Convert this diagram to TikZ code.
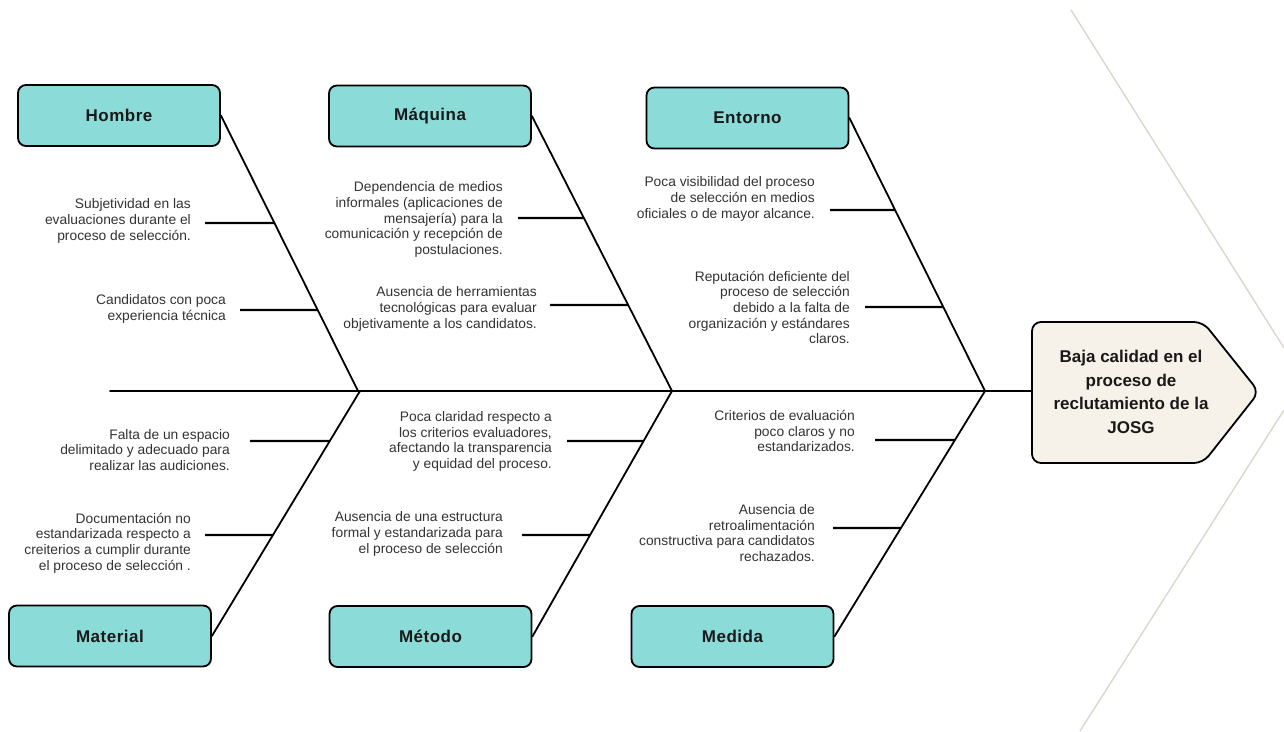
\documentclass[tikz,border=0pt]{standalone}
\usepackage{fontspec}
\setmainfont{Liberation Sans}
\usetikzlibrary{calc}
\definecolor{boxfill}{HTML}{8BDCD9}
\definecolor{headfill}{HTML}{F6F2EA}
\definecolor{txt}{HTML}{333333}
\definecolor{guide}{HTML}{D9D5C9}
\tikzset{
  catbox/.style={draw=black, line width=1.8pt, fill=boxfill, rounded corners=8pt,
    minimum width=202pt, minimum height=61pt, inner sep=0pt, text=black!90,
    font=\fontsize{17}{20}\selectfont\bfseries\addfontfeature{LetterSpace=3}},
  cause/.style={anchor=east, align=right, inner sep=0pt, text=txt,
    font=\fontsize{13.8}{15.7}\selectfont},
  bone/.style={line width=1.8pt, line cap=round},
  twig/.style={line width=2.3pt},
  guideline/.style={guide, line width=1.3pt},
}
\begin{document}
\begin{tikzpicture}[x=1pt,y=-1pt]
\useasboundingbox (0,0) rectangle (1284,731);
\fill[white] (0,0) rectangle (1284,731);

% faint chevron behind the head
\coordinate (gA) at (1071,10);
\coordinate (gB) at (1284,348);
\coordinate (gC) at (1284,410);
\coordinate (gD) at (1080,731);
\draw[guideline] (gA) -- (gB);
\draw[guideline] (gC) -- (gD);

% category boxes
\node[catbox] (hombre)   at (119,115.5) {Hombre};
\node[catbox] (maquina)  at (430,116)   {Máquina};
\node[catbox] (entorno)  at (747.5,118) {Entorno};
\node[catbox] (material) at (110,636)   {Material};
\node[catbox] (metodo)   at (430.5,636.5) {Método};
\node[catbox] (medida)   at (732.5,636.5) {Medida};

% head of the fish
\coordinate (headW) at (1032,391);
\draw[line width=1.8pt, fill=headfill, rounded corners=9pt]
  (1032,322) -- (1203,322) -- (1259,392) -- (1203,463) -- (1032,463) -- cycle;
\node[align=center, inner sep=0pt, text=black!90,
  font=\fontsize{17}{23.5}\selectfont\bfseries]
  (head) at (1131,392) {Baja calidad en el\\proceso de\\reclutamiento de la\\JOSG};

% spine
\coordinate (tail) at (110,391);
\draw[bone] (tail) -- (headW);

% junctions on the spine
\coordinate (jH)  at (358,391);
\coordinate (jMq) at (672,391);
\coordinate (jE)  at (985,391);
\coordinate (jMa) at (360,391);
\coordinate (jMe) at (672,391);
\coordinate (jMd) at (985,391);

% main bones
\draw[bone] (hombre.east)   -- (jH);
\draw[bone] (maquina.east)  -- (jMq);
\draw[bone] (entorno.east)  -- (jE);
\draw[bone] (material.east) -- (jMa);
\draw[bone] (metodo.east)   -- (jMe);
\draw[bone] (medida.east)   -- (jMd);

% Hombre causes
\coordinate (h1) at ($(hombre.east)!0.3902!(jH)$);
\coordinate (h1e) at (205,223);
\draw[twig] (h1) -- (h1e);
\node[cause] (ch1) at (191,221) {Subjetividad en las\\evaluaciones durante el\\proceso de selección.};
\coordinate (h2) at ($(hombre.east)!0.706!(jH)$);
\coordinate (h2e) at (240,310);
\draw[twig] (h2) -- (h2e);
\node[cause] (ch2) at (226,309) {Candidatos con poca\\experiencia técnica};

% Máquina causes
\coordinate (q1) at ($(maquina.east)!0.3709!(jMq)$);
\coordinate (q1e) at (518,218);
\draw[twig] (q1) -- (q1e);
\node[cause] (cq1) at (503,219.5) {Dependencia de medios\\informales (aplicaciones de\\mensajería) para la\\comunicación y recepción de\\postulaciones.};
\coordinate (q2) at ($(maquina.east)!0.6873!(jMq)$);
\coordinate (q2e) at (550,305);
\draw[twig] (q2) -- (q2e);
\node[cause] (cq2) at (537,309) {Ausencia de herramientas\\tecnológicas para evaluar\\objetivamente a los candidatos.};

% Entorno causes
\coordinate (e1) at ($(entorno.east)!0.337!(jE)$);
\coordinate (e1e) at (830,210);
\draw[twig] (e1) -- (e1e);
\node[cause] (ce1) at (815,199) {Poca visibilidad del proceso\\de selección en medios\\oficiales o de mayor alcance.};
\coordinate (e2) at ($(entorno.east)!0.6923!(jE)$);
\coordinate (e2e) at (865,307);
\draw[twig] (e2) -- (e2e);
\node[cause] (ce2) at (850,307.5) {Reputación deficiente del\\proceso de selección\\debido a la falta de\\organización y estándares\\claros.};

% Material causes
\coordinate (m1) at ($(material.east)!0.7959!(jMa)$);
\coordinate (m1e) at (250,441);
\draw[twig] (m1) -- (m1e);
\node[cause] (cm1) at (230,450) {Falta de un espacio\\delimitado y adecuado para\\realizar las audiciones.};
\coordinate (m2) at ($(material.east)!0.4122!(jMa)$);
\coordinate (m2e) at (205,535);
\draw[twig] (m2) -- (m2e);
\node[cause] (cm2) at (191,543) {Documentación no\\estandarizada respecto a\\creiterios a cumplir durante\\el proceso de selección .};

% Método causes
\coordinate (t1) at ($(metodo.east)!0.7963!(jMe)$);
\coordinate (t1e) at (567,441);
\draw[twig] (t1) -- (t1e);
\node[cause] (ct1) at (552,441.5) {Poca claridad respecto a\\los criterios evaluadores,\\afectando la transparencia\\y equidad del proceso.};
\coordinate (t2) at ($(metodo.east)!0.4134!(jMe)$);
\coordinate (t2e) at (522,535);
\draw[twig] (t2) -- (t2e);
\node[cause] (ct2) at (503,534) {Ausencia de una estructura\\formal y estandarizada para\\el proceso de selección};

% Medida causes
\coordinate (d1) at ($(medida.east)!0.8004!(jMd)$);
\coordinate (d1e) at (875,440);
\draw[twig] (d1) -- (d1e);
\node[cause] (cd1) at (855,431) {Criterios de evaluación\\poco claros y no\\estandarizados.};
\coordinate (d2) at ($(medida.east)!0.442!(jMd)$);
\coordinate (d2e) at (833,528);
\draw[twig] (d2) -- (d2e);
\node[cause] (cd2) at (815,533) {Ausencia de\\retroalimentación\\constructiva para candidatos\\rechazados.};
\end{tikzpicture}
\end{document}
